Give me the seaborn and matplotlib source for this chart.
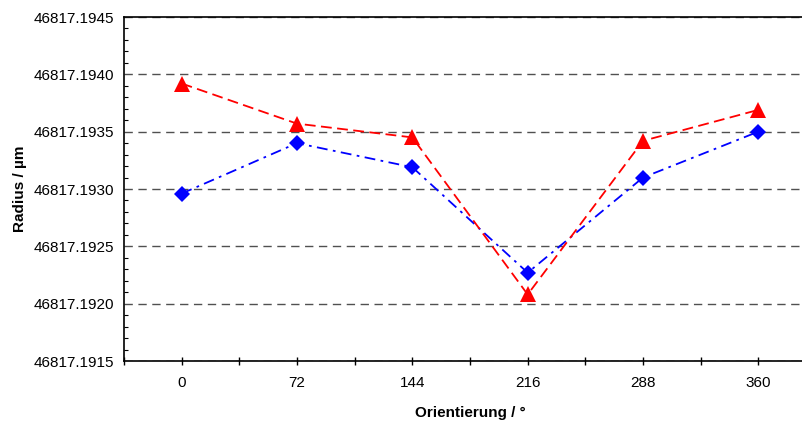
import matplotlib
matplotlib.use("Agg")
import matplotlib.pyplot as plt
from matplotlib.ticker import MultipleLocator, FormatStrFormatter
import pandas as pd
import seaborn as sns

# ── Daten ──
orientierung = [0, 72, 144, 216, 288, 360]
radius_rot = [46817.19392, 46817.19357, 46817.19345, 46817.19208, 46817.19342, 46817.19369]
radius_blau = [46817.19296, 46817.19340, 46817.19319, 46817.19227, 46817.19310, 46817.19350]

df = pd.DataFrame({
    "orientierung": orientierung,
    "rot": radius_rot,
    "blau": radius_blau,
})

sns.set_style("white")
plt.rcParams["font.family"] = ["Liberation Sans", "DejaVu Sans"]
plt.rcParams["text.color"] = "black"
plt.rcParams["axes.labelcolor"] = "black"
plt.rcParams["xtick.color"] = "black"
plt.rcParams["ytick.color"] = "black"

fig = plt.figure(figsize=(8.03, 4.23), dpi=100)
# rechte Kante liegt ausserhalb des Bildes (wie im Original abgeschnitten)
ax = fig.add_axes([124 / 803, 62 / 423, 692 / 803, 344 / 423])

sns.lineplot(data=df, x="orientierung", y="blau", ax=ax, color="#0000ff",
             linestyle=(0, (6, 3, 1.5, 3)), linewidth=1.3,
             marker="D", markersize=8.5, markeredgewidth=0, zorder=3)
sns.lineplot(data=df, x="orientierung", y="rot", ax=ax, color="#ff0000",
             linestyle=(0, (6, 3)), linewidth=1.3,
             marker="^", markersize=11, markeredgewidth=0, zorder=4)

ax.set_xlim(-36, 396)
ax.set_ylim(46817.1915, 46817.1945)
ax.xaxis.set_major_locator(MultipleLocator(72))
ax.xaxis.set_minor_locator(MultipleLocator(36))
ax.yaxis.set_major_locator(MultipleLocator(0.0005))
ax.yaxis.set_minor_locator(MultipleLocator(0.0001))
ax.yaxis.set_major_formatter(FormatStrFormatter("%.4f"))

ax.grid(axis="y", which="major", color="#505050", linestyle=(0, (6, 4)), linewidth=1.0)
ax.set_axisbelow(True)

for s in ["left", "bottom", "top"]:
    ax.spines[s].set_color("black")
    ax.spines[s].set_linewidth(1.2)
ax.spines["right"].set_visible(False)

ax.tick_params(axis="y", which="major", direction="out", length=4, width=1, labelsize=11, pad=3)
ax.tick_params(axis="y", which="minor", direction="in", length=3, width=0.8, left=True)
ax.tick_params(axis="x", which="major", direction="inout", length=6, width=1, labelsize=11, pad=8, bottom=True)
ax.tick_params(axis="x", which="minor", direction="inout", length=6, width=1, bottom=True)

ax.set_xlabel("Orientierung / °", fontsize=11, fontweight="bold", labelpad=11)
ax.set_ylabel("Radius / µm", fontsize=11, fontweight="bold", labelpad=5)

fig.savefig("out.png", dpi=100)
